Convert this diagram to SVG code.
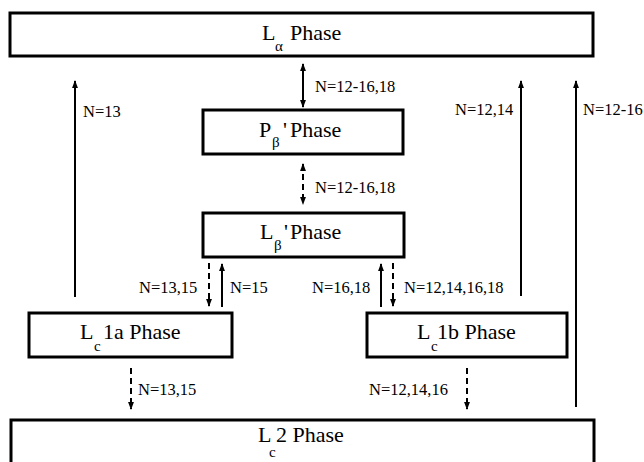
<svg xmlns="http://www.w3.org/2000/svg" width="644" height="462" viewBox="0 0 644 462">
<style>
.t{font-family:'Times New Roman','Liberation Serif',Tinos,'DejaVu Serif','Noto Serif',serif;font-size:22px;fill:#000}
.s{font-family:'Times New Roman','Liberation Serif',Tinos,'DejaVu Serif','Noto Serif',serif;font-size:15px;fill:#000}
.lbl{font-family:'Times New Roman','Liberation Serif',Tinos,'DejaVu Serif','Noto Serif',serif;font-size:16.5px;fill:#000}
.box{fill:#fff;stroke:#000;stroke-width:3}
.ln{stroke:#000;stroke-width:2;fill:none}
.d{stroke-dasharray:6 4}
</style>
<defs>
<marker id="ah" markerUnits="userSpaceOnUse" markerWidth="8" markerHeight="12" viewBox="0 0 8 12" refX="7" refY="4" orient="auto-start-reverse">
<path d="M0,0 L11,4 L0,8 Z" transform="translate(-3,0)" fill="#000"/>
</marker>
</defs>
<rect width="644" height="462" fill="#fff"/>
<g id="connectors">
<line class="ln" x1="303" y1="64" x2="303" y2="107" marker-start="url(#ah)" marker-end="url(#ah)"/>
<line class="ln" x1="75" y1="297" x2="75" y2="81" marker-end="url(#ah)"/>
<line class="ln" x1="521" y1="296" x2="521" y2="81" marker-end="url(#ah)"/>
<line class="ln" x1="576" y1="407" x2="576" y2="81" marker-end="url(#ah)"/>
<line class="ln d" x1="303" y1="164" x2="303" y2="204" marker-start="url(#ah)" marker-end="url(#ah)"/>
<line class="ln d" x1="209" y1="263" x2="209" y2="306" marker-end="url(#ah)"/>
<line class="ln" x1="222" y1="307" x2="222" y2="264" marker-end="url(#ah)"/>
<line class="ln" x1="381" y1="307" x2="381" y2="264" marker-end="url(#ah)"/>
<line class="ln d" x1="393" y1="263" x2="393" y2="306" marker-end="url(#ah)"/>
<line class="ln d" x1="131" y1="368" x2="131" y2="409" marker-end="url(#ah)"/>
<line class="ln d" x1="467" y1="368" x2="467" y2="409" marker-end="url(#ah)"/>
<text class="lbl" x="315" y="92">N=12-16,18</text>
<text class="lbl" x="83" y="117">N=13</text>
<text class="lbl" x="455" y="115">N=12,14</text>
<text class="lbl" x="583" y="115">N=12-16</text>
<text class="lbl" x="315" y="193">N=12-16,18</text>
<text class="lbl" x="139" y="293">N=13,15</text>
<text class="lbl" x="230" y="293">N=15</text>
<text class="lbl" x="312" y="293">N=16,18</text>
<text class="lbl" x="404" y="293">N=12,14,16,18</text>
<text class="lbl" x="138" y="395">N=13,15</text>
<text class="lbl" x="369" y="395">N=12,14,16</text>
</g>
<g id="La">
<rect class="box" x="10" y="13" width="583" height="43"/>
<text class="t" x="262" y="40">L</text><text class="s" x="275" y="51">α</text><text class="t" x="290" y="40">Phase</text>
</g>
<g id="Pb">
<rect class="box" x="203" y="110" width="200" height="44"/>
<text class="t" x="259" y="137">P</text><text class="s" x="272" y="147">β</text><text class="t" x="283" y="137">'</text><text class="t" x="290" y="137">Phase</text>
</g>
<g id="Lb">
<rect class="box" x="203" y="213" width="201" height="44"/>
<text class="t" x="260" y="239">L</text><text class="s" x="274" y="250">β</text><text class="t" x="284" y="239">'</text><text class="t" x="290" y="239">Phase</text>
</g>
<g id="Lc1a">
<rect class="box" x="29" y="313" width="203" height="44"/>
<text class="t" x="80" y="339">L</text><text class="s" x="94" y="351">c</text><text class="t" x="103" y="339">1a Phase</text>
</g>
<g id="Lc1b">
<rect class="box" x="367" y="313" width="200" height="44"/>
<text class="t" x="417" y="339">L</text><text class="s" x="431" y="351">c</text><text class="t" x="437" y="339">1b Phase</text>
</g>
<g id="Lc2">
<rect class="box" x="11" y="420" width="583" height="60"/>
<text class="t" x="258" y="442">L</text><text class="s" x="269" y="457">c</text><text class="t" x="276" y="442">2 Phase</text>
</g>
</svg>
